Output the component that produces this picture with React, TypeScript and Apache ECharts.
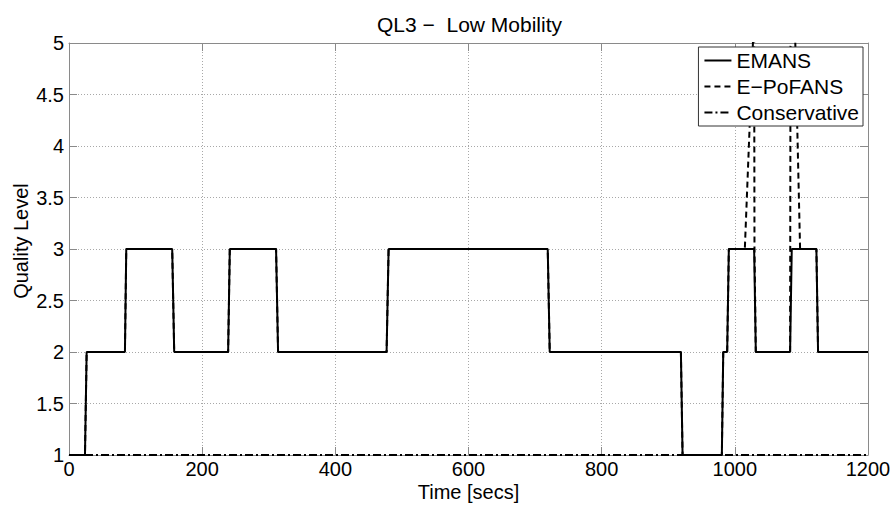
import React, { useEffect, useRef } from "react";
import * as echarts from "echarts";

// Time axis ticks (seconds) and quality-level ticks
const timeTicks = { min: 0, max: 1200, interval: 200 };
const levelTicks = { min: 1, max: 5, interval: 0.5 };

// [time (s), quality level] breakpoints of each scheme
const emans: [number, number][] = [
  [0, 1], [24, 1], [26.5, 2], [84, 2], [86, 3], [155, 3], [158, 2],
  [239, 2], [241.5, 3], [311, 3], [314, 2], [477, 2], [480, 3],
  [719, 3], [722, 2], [919, 2], [921.5, 1], [980.5, 1], [982.6, 2],
  [988.5, 2], [991, 3], [1029, 3], [1031.5, 2], [1083, 2], [1085.5, 3],
  [1122.5, 3], [1125, 2], [1200, 2],
];

const epofans: [number, number][] = [
  [0, 1], [24, 1], [26.5, 2], [84, 2], [86, 3], [155, 3], [158, 2],
  [239, 2], [241.5, 3], [311, 3], [314, 2], [477, 2], [480, 3],
  [719, 3], [722, 2], [919, 2], [921.5, 1], [980.5, 1], [982.6, 2],
  [988.5, 2], [991, 3], [1015, 3], [1029, 5.3], [1029.5, 3],
  [1031.5, 2], [1083, 2], [1084, 6.9], [1098, 3],
  [1122.5, 3], [1125, 2], [1200, 2],
];

const conservative: [number, number][] = [
  [0, 1], [1200, 1],
];

const seriesNames = ["EMANS", "E\u2212PoFANS", "Conservative"];

const FONT = "'Liberation Sans', Arial, Helvetica, sans-serif";
const AXIS_GRAY = "#8a8a8a";
const GRID_GRAY = "#a8a8a8";

export default function App() {
  const ref = useRef<HTMLDivElement>(null);

  useEffect(() => {
    if (!ref.current) return;
    const chart = echarts.init(ref.current, undefined, { renderer: "svg" });

    const frameAxis = {
      axisLine: { show: true, onZero: false, lineStyle: { color: AXIS_GRAY, width: 1 } },
      axisTick: { show: true, inside: true, length: 8, lineStyle: { color: AXIS_GRAY } },
    };

    chart.setOption({
      animation: false,
      backgroundColor: "#fff",
      textStyle: { fontFamily: FONT },
      title: {
        text: "QL3 \u2212  Low Mobility",
        left: 372,
        top: 9,
        textStyle: { fontSize: 21, fontWeight: "normal", color: "#000", fontFamily: FONT },
      },
      grid: { left: 69, right: 25, top: 43, bottom: 52, outerBoundsMode: "none" },
      legend: {
        orient: "vertical",
        right: 30,
        top: 47,
        itemWidth: 27,
        itemHeight: 12,
        itemGap: 5,
        padding: [3, 4, 3, 5],
        borderColor: "#333",
        borderWidth: 1,
        backgroundColor: "#fff",
        itemStyle: { opacity: 0 },
        textStyle: { fontSize: 21, color: "#000", fontFamily: FONT },
        data: seriesNames,
      },
      xAxis: [
        {
          type: "value",
          ...timeTicks,
          ...frameAxis,
          name: "Time [secs]",
          nameLocation: "middle",
          nameGap: 28,
          nameMoveOverlap: false,
          nameTextStyle: { fontSize: 20, lineHeight: 17, color: "#000", fontFamily: FONT },
          axisLabel: {
            fontSize: 20,
            lineHeight: 15,
            color: "#000",
            margin: 6,
            fontFamily: FONT,
            formatter: (v: number) => String(v),
          },
          splitLine: { show: true, lineStyle: { color: GRID_GRAY, type: [1, 2], width: 1 } },
        },
        {
          type: "value",
          position: "top",
          ...timeTicks,
          ...frameAxis,
          axisLabel: { show: false },
          splitLine: { show: false },
        },
      ],
      yAxis: [
        {
          type: "value",
          ...levelTicks,
          ...frameAxis,
          name: "Quality Level",
          nameLocation: "middle",
          nameGap: 38,
          nameMoveOverlap: false,
          nameTextStyle: { fontSize: 20, color: "#000", fontFamily: FONT, padding: [0, 0, 0, 16] },
          axisLabel: { fontSize: 20, color: "#000", margin: 5, fontFamily: FONT },
          splitLine: { show: true, lineStyle: { color: GRID_GRAY, type: [1, 2], width: 1 } },
        },
        {
          type: "value",
          position: "right",
          ...levelTicks,
          ...frameAxis,
          axisLabel: { show: false },
          splitLine: { show: false },
        },
      ],
      series: [
        {
          name: seriesNames[0],
          type: "line",
          data: emans,
          symbol: "none",
          lineStyle: { color: "#000", width: 2, type: "solid" },
          itemStyle: { color: "#000" },
        },
        {
          name: seriesNames[1],
          type: "line",
          data: epofans,
          symbol: "none",
          lineStyle: { color: "#000", width: 2, type: [6, 4] },
          itemStyle: { color: "#000" },
        },
        {
          name: seriesNames[2],
          type: "line",
          data: conservative,
          symbol: "none",
          lineStyle: { color: "#000", width: 2, type: [8, 3, 2, 3] },
          itemStyle: { color: "#000" },
        },
      ],
    });

    return () => chart.dispose();
  }, []);

  return (
    <div
      ref={ref}
      style={{ position: "fixed", left: 0, top: 0, width: 893, height: 507 }}
    />
  );
}
